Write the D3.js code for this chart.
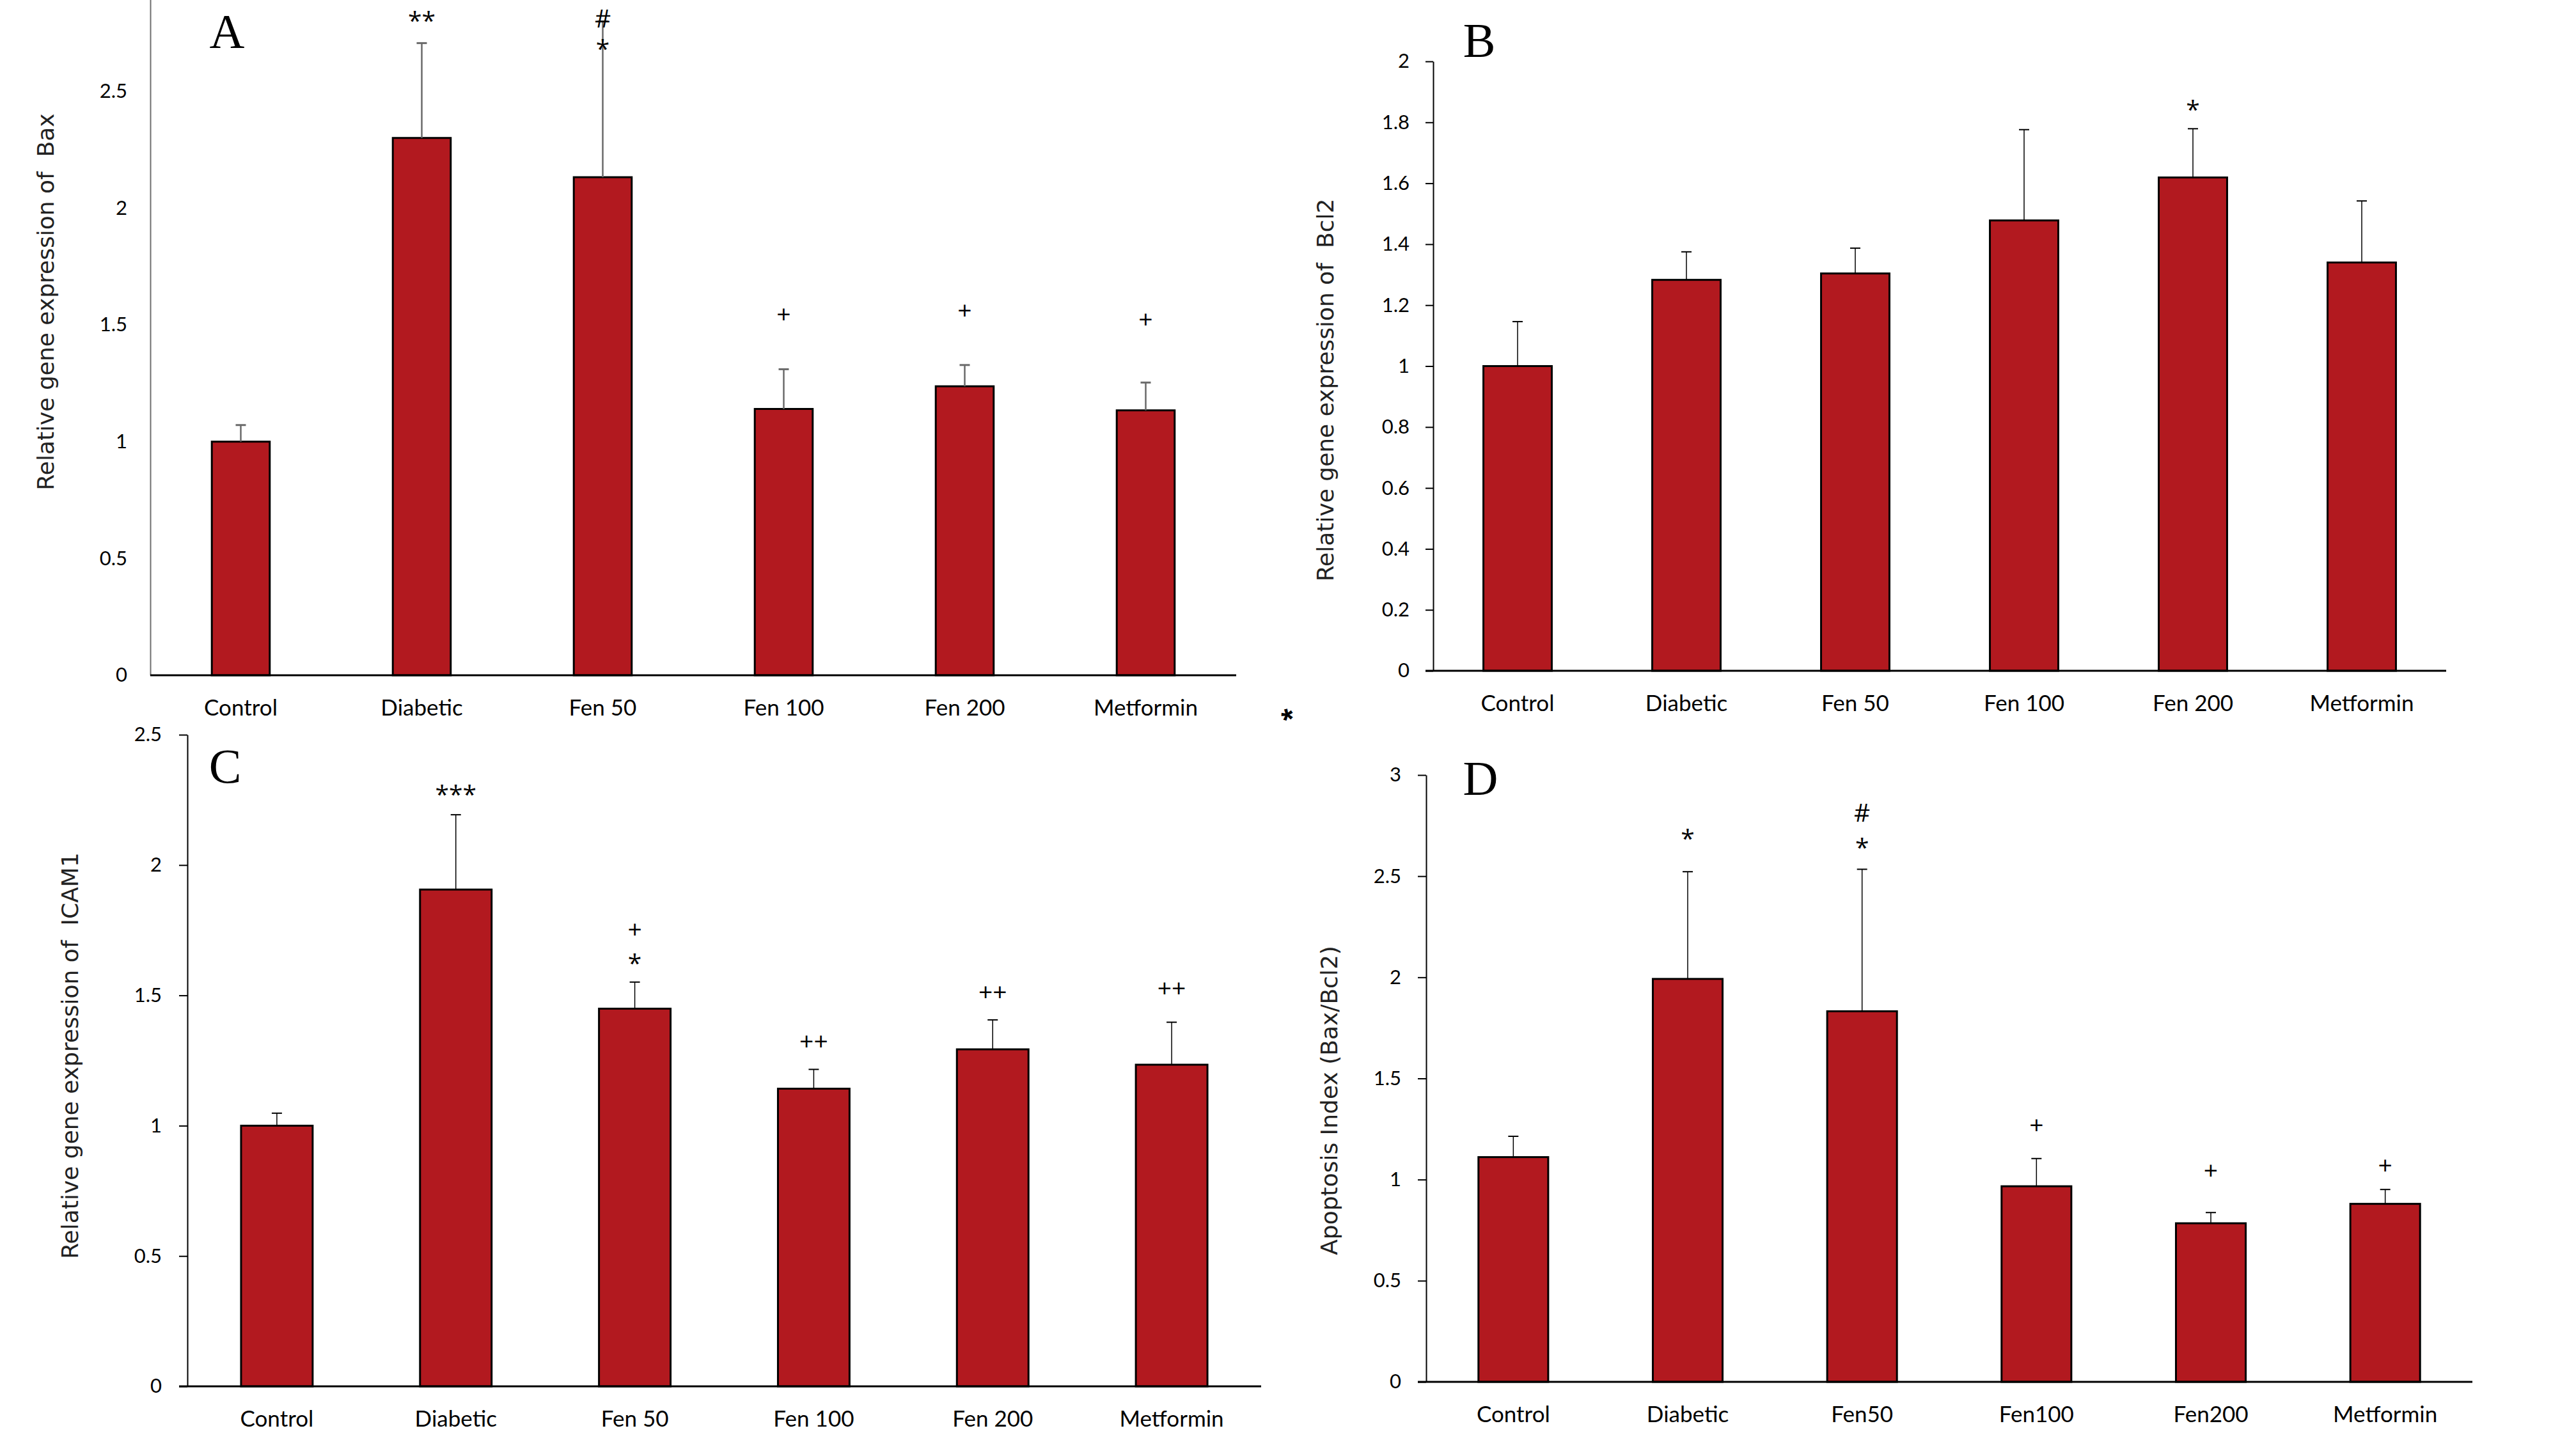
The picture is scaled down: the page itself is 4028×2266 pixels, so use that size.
<!DOCTYPE html>
<html>
<head>
<meta charset="utf-8">
<script src="https://cdn.jsdelivr.net/npm/d3@7"></script>
<style>
  html, body { margin: 0; padding: 0; background: #fff; }
  svg { display: block; }
</style>
</head>
<body>
<div id="app"></div>
<script>
// Groups on the x axis
const groupsSpaced = ['Control', 'Diabetic', 'Fen 50', 'Fen 100', 'Fen 200', 'Metformin'];
const groupsTight = ['Control', 'Diabetic', 'Fen50', 'Fen100', 'Fen200', 'Metformin'];

// A: Bax
const baxMean = [1.0, 2.3, 2.132, 1.14, 1.237, 1.134];
const baxErr = [0.071, 0.406, 0.667, 0.17, 0.091, 0.119];
const baxTicks = [0, 0.5, 1, 1.5, 2, 2.5];
const baxMarks = [
  { group: 'Diabetic', text: '**', at: 2.83 },
  { group: 'Fen 50', text: '#', at: 2.81 },
  { group: 'Fen 50', text: '*', at: 2.71 },
  { group: 'Fen 100', text: '+', at: 1.548 },
  { group: 'Fen 200', text: '+', at: 1.562 },
  { group: 'Metformin', text: '+', at: 1.526 }
];

// B: Bcl2
const bcl2Mean = [1.0, 1.283, 1.304, 1.478, 1.619, 1.34];
const bcl2Err = [0.146, 0.092, 0.083, 0.298, 0.16, 0.202];
const bcl2Ticks = [0, 0.2, 0.4, 0.6, 0.8, 1, 1.2, 1.4, 1.6, 1.8, 2];
const bcl2Marks = [{ group: 'Fen 200', text: '*', at: 1.864 }];

// C: ICAM1
const icamMean = [1.0, 1.906, 1.449, 1.142, 1.293, 1.234];
const icamErr = [0.048, 0.287, 0.102, 0.074, 0.113, 0.163];
const icamTicks = [0, 0.5, 1, 1.5, 2, 2.5];
const icamMarks = [
  { group: 'Diabetic', text: '***', at: 2.296 },
  { group: 'Fen 50', text: '+', at: 1.755 },
  { group: 'Fen 50', text: '*', at: 1.648 },
  { group: 'Fen 100', text: '++', at: 1.324 },
  { group: 'Fen 200', text: '++', at: 1.514 },
  { group: 'Metformin', text: '++', at: 1.528 }
];

// D: Apoptosis index
const apoMean = [1.111, 1.992, 1.832, 0.967, 0.784, 0.88];
const apoErr = [0.103, 0.53, 0.702, 0.137, 0.053, 0.071];
const apoTicks = [0, 0.5, 1, 1.5, 2, 2.5, 3];
const apoMarks = [
  { group: 'Diabetic', text: '*', at: 2.72 },
  { group: 'Fen50', text: '#', at: 2.813 },
  { group: 'Fen50', text: '*', at: 2.675 },
  { group: 'Fen100', text: '+', at: 1.271 },
  { group: 'Fen200', text: '+', at: 1.045 },
  { group: 'Metformin', text: '+', at: 1.072 }
];

const BAR_FILL = '#b2191f';
const LABEL_FONT = 'Lato, "Open Sans", sans-serif';
const MARK_FONT = '"Open Sans", sans-serif';
const TITLE_FONT = '"DejaVu Sans", Verdana, sans-serif';

const svg = d3.select('#app')
  .append('svg')
  .attr('width', 4028)
  .attr('height', 2266)
  .attr('viewBox', '0 0 4028 2266');

svg.append('rect').attr('width', 4028).attr('height', 2266).attr('fill', '#fff');

/**
 * Draw one bar panel with error bars and significance marks.
 */
function drawPanel(p) {
  const g = svg.append('g');

  const x = d3.scaleBand()
    .domain(p.groups)
    .range([p.x0, p.x1])
    .paddingInner(p.pad)
    .paddingOuter(p.pad / 2);

  const y = d3.scaleLinear().domain(p.domain).range([p.base, p.top]);

  const rows = p.groups.map((grp, i) => ({ grp, mean: p.mean[i], err: p.err[i] }));

  // y axis
  const yAxis = d3.axisLeft(y)
    .tickValues(p.ticks)
    .tickFormat(d3.format('~g'))
    .tickSize(p.tickSize)
    .tickSizeOuter(0)
    .tickPadding(p.tickPad);

  const ya = g.append('g')
    .attr('transform', `translate(${p.x0},0)`)
    .call(yAxis);
  ya.select('.domain').attr('stroke', p.axisColor).attr('stroke-width', 2);
  ya.selectAll('.tick line').attr('stroke', p.axisColor).attr('stroke-width', 2);
  ya.selectAll('.tick text')
    .attr('font-family', LABEL_FONT)
    .attr('font-size', 31)
    .attr('fill', '#000');

  // bars
  g.selectAll('rect.bar')
    .data(rows)
    .enter()
    .append('rect')
    .attr('class', 'bar')
    .attr('x', (d) => x(d.grp))
    .attr('width', x.bandwidth())
    .attr('y', (d) => y(d.mean))
    .attr('height', (d) => y(0) - y(d.mean))
    .attr('fill', BAR_FILL)
    .attr('stroke', '#000')
    .attr('stroke-width', 3);

  // error bars (upper only)
  const cx = (d) => x(d.grp) + x.bandwidth() / 2;
  g.selectAll('line.err')
    .data(rows)
    .enter()
    .append('line')
    .attr('x1', cx)
    .attr('x2', cx)
    .attr('y1', (d) => y(d.mean))
    .attr('y2', (d) => y(d.mean + d.err))
    .attr('stroke', p.errColor)
    .attr('stroke-width', p.errWidth);

  g.selectAll('line.cap')
    .data(rows)
    .enter()
    .append('line')
    .attr('x1', (d) => cx(d) - 8)
    .attr('x2', (d) => cx(d) + 8)
    .attr('y1', (d) => y(d.mean + d.err))
    .attr('y2', (d) => y(d.mean + d.err))
    .attr('stroke', p.errColor)
    .attr('stroke-width', p.errWidth + 0.5);

  // baseline
  g.append('line')
    .attr('x1', p.x0 - p.baseExt)
    .attr('x2', p.x1)
    .attr('y1', y(0))
    .attr('y2', y(0))
    .attr('stroke', '#000')
    .attr('stroke-width', 3);

  // category labels
  const xa = g.append('g')
    .attr('transform', `translate(0,${y(0)})`)
    .call(d3.axisBottom(x).tickSize(0).tickPadding(38));
  xa.select('.domain').remove();
  xa.selectAll('.tick text')
    .attr('font-family', LABEL_FONT)
    .attr('font-size', 35)
    .attr('fill', '#000');

  // significance marks
  const isStar = (d) => d.text.includes('*');
  g.selectAll('text.mark')
    .data(p.marks)
    .enter()
    .append('text')
    .attr('x', (d) => x(d.group) + x.bandwidth() / 2)
    .attr('y', (d) => y(d.at))
    .attr('dy', (d) => (isStar(d) ? '0.62em' : '0.36em'))
    .attr('text-anchor', 'middle')
    .attr('font-family', MARK_FONT)
    .attr('font-size', 39)
    .attr('fill', '#000')
    .text((d) => d.text);

  // panel letter
  g.append('text')
    .attr('x', p.letterX)
    .attr('y', p.letterY)
    .attr('text-anchor', 'middle')
    .attr('font-family', '"Liberation Serif", "Times New Roman", serif')
    .attr('font-size', 76)
    .attr('fill', '#000')
    .text(p.letter);

  // y title
  g.append('text')
    .attr('transform', `translate(${p.titleX},${p.titleY}) rotate(-90)`)
    .attr('text-anchor', 'middle')
    .attr('dominant-baseline', 'central')
    .attr('font-family', TITLE_FONT)
    .attr('font-size', 36)
    .attr('fill', '#222')
    .attr('xml:space', 'preserve')
    .style('white-space', 'pre')
    .text(p.title);
}

drawPanel({
  groups: groupsSpaced, mean: baxMean, err: baxErr, ticks: baxTicks, marks: baxMarks,
  x0: 235, x1: 1933, base: 1056, top: -40, domain: [0, 3], pad: 0.68,
  tickSize: 0, tickPad: 36, baseExt: 0, axisColor: '#6e6e6e',
  errColor: '#6a6a6a', errWidth: 2.5,
  letter: 'A', letterX: 355, letterY: 75,
  title: 'Relative gene expression of  Bax', titleX: 71, titleY: 472
});

drawPanel({
  groups: groupsSpaced, mean: bcl2Mean, err: bcl2Err, ticks: bcl2Ticks, marks: bcl2Marks,
  x0: 2241, x1: 3825, base: 1049, top: 96, domain: [0, 2], pad: 0.595,
  tickSize: 12, tickPad: 25, baseExt: 12, axisColor: '#000',
  errColor: '#000', errWidth: 1.5,
  letter: 'B', letterX: 2313, letterY: 89,
  title: 'Relative gene expression of  Bcl2', titleX: 2072, titleY: 610
});

drawPanel({
  groups: groupsSpaced, mean: icamMean, err: icamErr, ticks: icamTicks, marks: icamMarks,
  x0: 293, x1: 1972, base: 2168, top: 1149, domain: [0, 2.5], pad: 0.6,
  tickSize: 13, tickPad: 27, baseExt: 13, axisColor: '#000',
  errColor: '#000', errWidth: 1.5,
  letter: 'C', letterX: 352, letterY: 1224,
  title: 'Relative gene expression of  ICAM1', titleX: 109, titleY: 1651
});

drawPanel({
  groups: groupsTight, mean: apoMean, err: apoErr, ticks: apoTicks, marks: apoMarks,
  x0: 2230, x1: 3866, base: 2161, top: 1212, domain: [0, 3], pad: 0.6,
  tickSize: 13, tickPad: 26, baseExt: 13, axisColor: '#000',
  errColor: '#000', errWidth: 1.5,
  letter: 'D', letterX: 2315, letterY: 1243,
  title: 'Apoptosis Index (Bax/Bcl2)', titleX: 2078, titleY: 1721
});

// stray mark between the panels
svg.append('text')
  .attr('x', 2011)
  .attr('y', 1112)
  .attr('dy', '0.62em')
  .attr('text-anchor', 'middle')
  .attr('transform', 'rotate(-15,2011,1112)')
  .attr('font-family', '"Liberation Sans", sans-serif')
  .attr('font-weight', 'bold')
  .attr('font-size', 48)
  .text('*');
</script>
</body>
</html>
